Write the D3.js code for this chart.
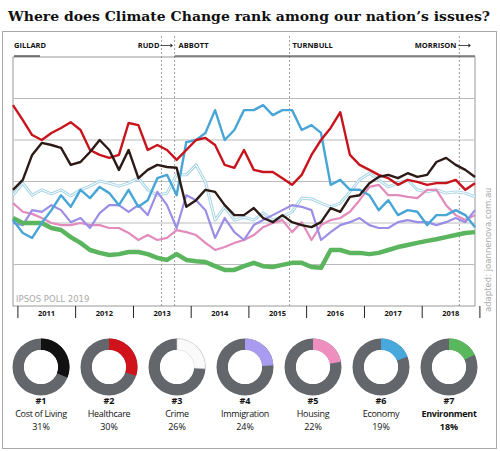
<!DOCTYPE html>
<html><head><meta charset="utf-8">
<script src="https://cdn.jsdelivr.net/npm/d3@7"></script>
<style>body{margin:0;background:#fff}</style></head>
<body><svg id="c" width="500" height="451"></svg>
<script>
const health=[48.4,44.8,41.2,40,41.7,42.9,44.3,42.4,37.6,36.4,35.7,36.4,44.1,43.6,37.6,38.8,37.6,35.2,37.6,40,40.5,38.8,34,33.3,37.6,32.8,32.3,32.3,30.8,29.2,31.6,36.4,40,42.9,46.7,36.4,34,32.8,31.6,30.8,29.2,30.4,29.9,29.2,29.6,29.6,30.4,28,29.6];
const cost=[28,30.4,36.4,39.3,38.8,38.1,34,34.7,37.1,40,37.6,32.8,37.6,30.8,32.8,34,33.5,33.3,23.9,25.5,28,27.5,24.3,21.9,21.9,23.6,21.2,20.2,21.9,20.2,19.5,19,20.2,23.6,22.7,26.3,26.7,29.6,31.1,31.6,30.8,32,31.1,31.6,34.7,35.7,34,32.8,31.1];
const economy=[20.7,17.6,16.4,20,23.1,26.7,23.9,28,26,28.7,27.2,24.3,28,23.9,25.5,30.8,31.6,26.7,39.5,40,41.7,47.2,40,42.4,47.2,47.2,48.4,46,47.2,47.2,42.4,43.6,41.7,29.2,30.4,28,28,26.7,23.1,25.5,21.9,23.1,22.7,19.5,21.9,21.9,23.1,21.9,19];
const immigration=[20,19.5,23.1,22.7,24.3,23.1,20.2,21.2,18.8,22.4,24.3,24.3,22.7,24.3,21.9,27.5,24.3,18.8,26.7,25.5,23.1,16.4,21.2,17.8,15.9,19.5,20.7,21.9,23.1,24.3,23.9,23.1,15.9,17.8,19.5,20.2,21.2,19.5,18.8,18.8,20.2,20.7,20.2,20.2,19.5,20.2,21.2,20.2,23.1];
const housing=[24.8,22.7,22.2,21.2,20,19.5,19.5,20,19.5,19.5,18.8,18.8,17.6,15.9,17.1,15.9,16.4,18.3,17.8,17.1,15.2,13.5,14.2,15.2,15.9,17.1,19,20,20.7,17.8,20.2,15.9,19.5,20.7,21.2,22.7,25.5,28.7,29.2,26.7,26.7,26.3,26,28,28,24.3,21.9,20.7,21.9];
const environment=[21.2,20,20,20,18.8,18.3,16.6,15.2,13.5,12.8,12.3,12.5,13,13,12.5,11.6,11.1,12.5,11.1,10.8,10.6,9.6,8.7,8.7,9.6,10.4,9.6,9.4,9.9,10.4,10.4,9.4,9.2,13.5,13.5,12.8,12.8,12.5,12.8,13.5,14.2,14.7,15.2,15.7,16.1,16.6,17.1,17.6,17.8];
const crime=[26.7,29.6,26.7,28,27,28,26.5,28,28.9,30.1,29.6,28.9,29.6,30.8,28,26.7,27.2,31.6,31.6,34,29.9,20.7,23.9,20.7,21.4,20.7,22.4,20.7,21.4,22.7,26,25.8,24.8,23.9,24.8,27.5,30.4,32,30.4,28.7,29.6,30.4,28,27.5,28,27.2,27.5,27.2,26.3];
const years=["2011","2012","2013","2014","2015","2016","2017","2018"];
const leaders=[{n:"GILLARD",d:"2010-06-24"},{n:"RUDD",d:"2013-06-27"},{n:"ABBOTT",d:"2013-09-18"},{n:"TURNBULL",d:"2015-09-15"},{n:"MORRISON",d:"2018-08-24"}];
const issues=["Cost of Living","Healthcare","Crime","Immigration","Housing","Economy","Environment"];
const pcts=[31,30,26,24,22,19,18];
const colors={cost:"#2b1a15",health:"#c8141c",economy:"#48a6d6",immigration:"#9a8ee6",housing:"#e28bbd",environment:"#5bb55f",crime:"#a9d6e6"};
const ringCols=["#111","#d0121b","#fafafa","#a99cf0","#ee8fc0","#47a8dc","#5ab85c"];

const svg=d3.select("#c");
const dates=d3.range(health.length).map(i=>d3.timeMonth.offset(new Date(2010,11,1),2*i));
const x=d3.scaleTime().domain([dates[0],dates[dates.length-1]]).range([13,475]);
const y=d3.scaleLinear().domain([0,60]).range([306,57]);

svg.append("rect").attr("x",2.5).attr("y",31.5).attr("width",494).attr("height",417).attr("fill","none").attr("stroke","#aaa");
svg.append("text").attr("x",8).attr("y",21).attr("font-family","DejaVu Serif").attr("font-weight","bold").attr("font-size",13.6).attr("textLength",482).attr("lengthAdjust","spacingAndGlyphs").attr("fill","#111").text("Where does Climate Change rank among our nation’s issues?");

svg.append("rect").attr("x",13).attr("y",57).attr("width",462).attr("height",249).attr("fill","#fff").attr("stroke","#999");
svg.append("g").selectAll("line").data([10,20,30,40,50]).join("line")
 .attr("x1",13).attr("x2",475).attr("y1",d=>y(d)).attr("y2",d=>y(d)).attr("stroke","#bbb").attr("stroke-width",1);

const ld=leaders.map(l=>({n:l.n,t:new Date(l.d)}));
svg.append("g").selectAll("line").data(ld.slice(1)).join("line")
 .attr("x1",d=>x(d.t)).attr("x2",d=>x(d.t)).attr("y1",36).attr("y2",306)
 .attr("stroke","#888").attr("stroke-dasharray","2,2").attr("stroke-width",0.8);
svg.append("line").attr("x1",x(ld[2].t)).attr("x2",475).attr("y1",56).attr("y2",56).attr("stroke","#333").attr("stroke-width",1.2);
svg.append("line").attr("x1",14).attr("x2",40).attr("y1",56).attr("y2",56).attr("stroke","#333").attr("stroke-width",1.2);
const lt=svg.append("g").attr("font-family","Open Sans").attr("font-weight","bold").attr("font-size",7.5).attr("fill","#111");
lt.append("text").attr("x",14).attr("y",48).text(ld[0].n);
lt.append("text").attr("x",x(ld[1].t)-2).attr("y",48).attr("text-anchor","end").text(ld[1].n);
lt.append("text").attr("x",x(ld[2].t)+4).attr("y",48).text(ld[2].n);
lt.append("text").attr("x",x(ld[3].t)+3).attr("y",48).text(ld[3].n);
lt.append("text").attr("x",x(ld[4].t)-3).attr("y",48).attr("text-anchor","end").text(ld[4].n);
[[x(ld[1].t),x(ld[1].t)+9],[x(ld[4].t),x(ld[4].t)+9]].forEach(([a,b])=>{
 svg.append("line").attr("x1",a-1).attr("x2",b).attr("y1",45.5).attr("y2",45.5).attr("stroke","#222").attr("stroke-width",0.8);
 svg.append("path").attr("d",`M${b},43.5L${b+2.5},45.5L${b},47.5Z`).attr("fill","#222");
});

const line=d3.line().x((d,i)=>x(dates[i])).y(d=>y(d));
const g=svg.append("g").attr("fill","none").attr("stroke-linejoin","round");
g.append("path").attr("d",line(crime)).attr("stroke",colors.crime).attr("stroke-width",3);
g.append("path").attr("d",line(crime)).attr("stroke","#fff").attr("stroke-width",1);
g.append("path").attr("d",line(housing)).attr("stroke",colors.housing).attr("stroke-width",2.2);
g.append("path").attr("d",line(immigration)).attr("stroke",colors.immigration).attr("stroke-width",2.2);
g.append("path").attr("d",line(environment)).attr("stroke",colors.environment).attr("stroke-width",4.5);
g.append("path").attr("d",line(economy)).attr("stroke",colors.economy).attr("stroke-width",2.4);
g.append("path").attr("d",line(health)).attr("stroke",colors.health).attr("stroke-width",2.4);
g.append("path").attr("d",line(cost)).attr("stroke",colors.cost).attr("stroke-width",2.4);

svg.append("text").attr("x",16).attr("y",302).attr("font-family","DejaVu Sans").attr("font-size",8.5).attr("fill","#aaa").text("IPSOS POLL 2019");
svg.append("text").attr("transform","translate(491,312) rotate(-90)").attr("font-family","DejaVu Sans").attr("font-size",8.5).attr("fill","#aaa").text("adapted: joannenova.com.au");

const yb=svg.append("g");
yb.selectAll("line").data(years.concat(["2019"])).join("line")
 .attr("x1",d=>x(new Date(+d,0,1))).attr("x2",d=>x(new Date(+d,0,1))).attr("y1",306).attr("y2",318).attr("stroke","#222").attr("stroke-width",1);
yb.selectAll("text").data(years).join("text")
 .attr("x",d=>Math.min(x(new Date(+d,6,1)),465)).attr("y",316).attr("text-anchor","middle")
 .attr("font-family","Open Sans").attr("font-weight","bold").attr("font-size",7.5).attr("fill","#111").text(d=>d);

const cx=d3.scalePoint().domain(issues).range([41,449]);
const arc=d3.arc().innerRadius(17).outerRadius(28.5);
issues.forEach((iss,i)=>{
 const gg=svg.append("g").attr("transform",`translate(${cx(iss)},367)`);
 gg.append("path").attr("d",arc({startAngle:0,endAngle:2*Math.PI})).attr("fill","#63666b");
 gg.append("path").attr("d",arc({startAngle:0,endAngle:2*Math.PI*pcts[i]/100})).attr("fill",ringCols[i]).attr("stroke",i===2?"#ccc":"none").attr("stroke-width",0.6);
 gg.append("circle").attr("r",17).attr("fill","#fff");
 const bold=i===6?"bold":"normal";
 const t=gg.append("g").attr("font-family","Open Sans").attr("font-size",9).attr("text-anchor","middle").attr("fill","#111");
 t.append("text").attr("y",37).attr("font-weight","bold").text("#"+(i+1));
 t.append("text").attr("y",50).attr("font-weight",bold).attr("letter-spacing",-0.3).text(iss);
 t.append("text").attr("y",63).attr("font-weight",bold).text(pcts[i]+"%");
});
</script></body></html>
